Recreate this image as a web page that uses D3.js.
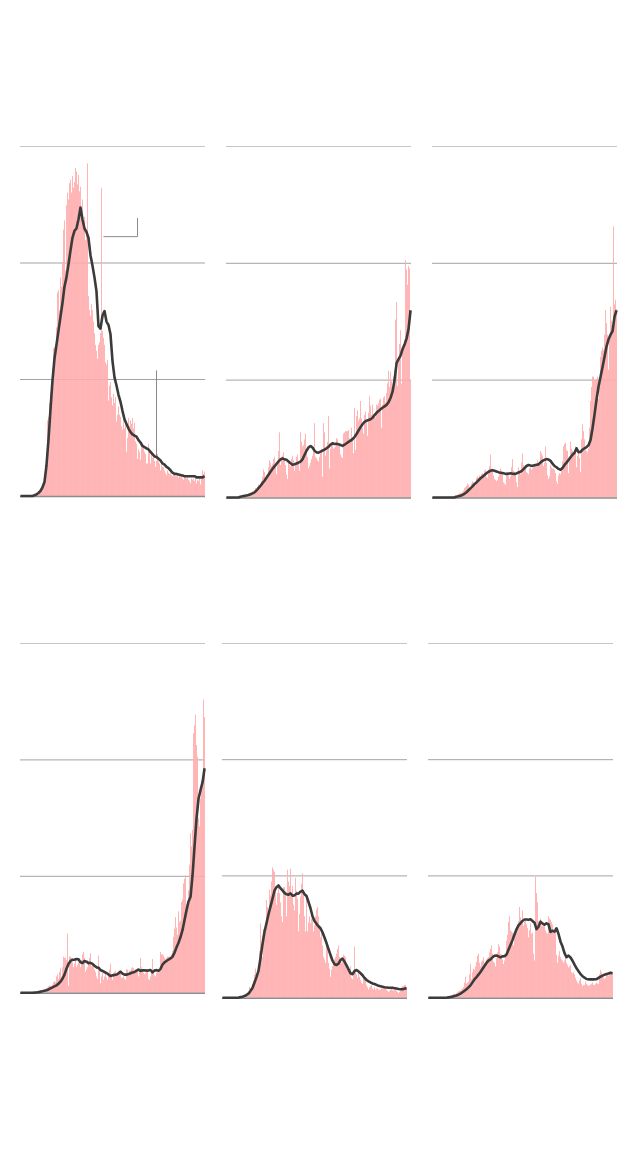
<!DOCTYPE html>
<html><head><meta charset="utf-8">
<script src="https://cdn.jsdelivr.net/npm/d3@7"></script>
<style>html,body{margin:0;padding:0;background:#fff}svg{display:block}</style>
</head><body><svg id="chart" width="640" height="1154"></svg>
<script>
// ---- DATA (units: 100 = one gridline step) ----
const DAYS = 185;           // daily bars per panel
const AVG_STEP = 2;         // average line sampled every 2 days

const p1Bars = [
0,0,0,0,0,0,0,0,0,0, 0.5,0,0.5,0.5,1,0.5,1,1,1.5,2,
3,4,5,7,11,25,37,65,68,80, 89,95,102,127,128,120,145,175,177,160,
188,180,200,229,237,194,250,261,255,269, 272,261,275,265,270,282,279,268,276,262,
266,245,255,230,240,220,225,286,172,160, 155,165,160,150,140,130,125,118,130,132,
140,265,142,136,130,115,113,117,82,95, 98,85,78,88,80,85,64,70,77,70,
68,60,57,66,58,63,38,50,67,60, 65,62,67,58,63,47,45,32,40,38,
31,45,42,42,38,36,28,28,45,40, 28,36,33,33,30,25,30,36,30,28,
22,27,25,25,22,20,18,22,20,19, 20,18,17,20,19,17,17,19,16,17,
17,18,15,14,17,16,15,17,14,13, 11,15,14,15,13,16,11,14,13,15,
10,16,22,19,21];
const p1Avg = [
0,0,0,0,0,0,0,
0.6,1.4,2.6,4.3,7.3,12,26,48,74,
99,118,130,142,154,166,180,188,199,
211,222,228,230,238,248,238,230,227,
222,207,198,188,176,146,144,155,159,
150,147,139,116,102,95,87,81,73,
66,62,58,55,53,52,51,48,46,
43,42,41,40,38,36,34,33.5,32,
30.5,28,27,25,24,22,20,19,19,
18.5,18,17.6,17,17,17,17,17,17,
16,16,16,16,17];

const p2Bars = [
0,0,0,0,0,0,0,0,0,0, 0.5,0.5,0.5,0.5,0.5,0.5,1,1,2,1,
2,2,3,3.5,3,4,5,4,6,8, 7,9,11,10,12,14,18,24,22,17,
19,20,26,32,30,27,29,33,35,30, 20,28,40,56,28,33,36,39,34,28,
20,16,30,28,27,33,36,32,23,28, 35,37,30,23,56,48,44,45,50,55,
40,35,25,27,30,33,36,42,64,35, 34,32,31,35,38,42,18,64,56,36,
40,48,70,25,42,47,48,42,43,44, 51,50,45,46,37,35,34,55,56,57,
57,57,58,51,50,60,52,38,77,41, 70,75,66,68,83,68,60,55,71,74,
65,53,73,87,79,71,80,71,70,69, 80,79,81,84,85,60,80,86,87,82,
90,98,109,95,108,100,93,104,110,153, 168,96,116,132,144,98,125,128,136,204,
196,183,199,197,101];
const p2Avg = [
0,0,0,0,0,0,0,
0.7,1.1,1.4,1.8,2.1,2.8,3.6,4.4,6,
8,9.9,12.3,14.4,17,19.5,22.2,24.6,26.7,
28.8,31,32.7,33.6,32.8,32.4,31,29.4,28.2,
28.6,29.2,30,30.8,32.8,36.5,40.2,43,44.3,
43,40.3,38.8,38.6,39.4,40.3,41.2,42.3,43.5,
45.5,46.6,46,46.2,45.8,45.2,44.4,45.4,46.6,
47.8,48.8,50.2,52,54.6,57.6,60.5,63,65,
66,66.6,67.3,68.6,70.8,72.8,74.3,75.9,77.2,
78.4,79.6,82,85.6,91,101,115.4,119,122,
127.6,131.5,136.6,145,161];

const p3Bars = [
0,0,0,0,0,0,0,0,0,0, 0,0,0,0,0.3,0.5,0.5,0.7,0.8,1,
1,1.2,1.5,2,1.5,2.5,3,3.5,4,4, 5,6,8,9,10,12,11,8.6,9,12,
14,13,12,10,17,18,17,19,18,20, 21,20,23,24,18,17,24,27,37,25,
22,19,16,15,14,15,18,20,25,23, 21,13,12,11,20,21,19,16,18,26,
33,23,22,20,13,9,26,22,20,30, 38,28,26,27,22,21,20,25,26,24,
25,27,28,27,28,32,28,30,40,38, 36,27,30,44,30,19,16,18,28,26,
25,25,24,21,14,12,19,21,20,26, 31,44,46,47,41,40,21,34,48,42,
40,39,41,44,26,36,40,34,22,50, 63,57,50,41,40,39,42,60,83,95,
104,104,100,101,102,104,85,100,121,126, 129,127,140,161,150,140,110,140,164,152,
144,233,166,170,162];
const p3Avg = [
0,0,0,0,0,0,0,0,0,
0,0,0,0.6,1.0,1.5,2.2,3.2,4.5,
6.2,7.9,9.6,11.4,13,14.8,16.5,17.9,19.3,
20.8,22.1,23,23.5,23,22.4,21.8,21.3,21,
20.6,20.3,20.5,20.8,20.4,20.3,20.7,21.5,22.2,
23.5,25.3,27.1,27.9,27.5,27.2,27.7,28.2,28.5,
30.1,31.5,32.4,33,32.7,31.5,29.1,27.1,26,
24.6,23.9,25.4,28,30,32.3,34.6,36.8,38.5,
42.3,39,39.2,41.1,42.3,43.3,45,49.5,59.5,
71.5,84.4,95.5,103.9,112.3,121,130,136,140,
143,155.5,161];

const p4Bars = [
0,0,0,0,0,0,0,0,0,0, 0,0,0,0.3,0.5,0.5,0.8,1,1.2,1.5,
2,2.3,2.3,2.8,3,3.5,4,4.5,5.5,6, 6,5,7,9,10,9,14,16,12,18,
21,14,22,31,30,30,28,51,6,31, 31,30,26,22,25,28,22,24,26,25,
22,28,33,35,30,18,20,22,26,30, 34,23,24,25,20,18,14,12,32,20,
8,14,17,11,14,18,13,11,17,20, 25,14,11,17,18,19,16,17,19,19,
18,13,13,14,12,11,20,20,17,19, 19,21,22,21,19,17,19,21,14,20,
30,22,19,17,16,17,20,20,12,11, 14,18,29,18,15,14,17,18,17,20,
35,33,33,32,30,29,30,31,31,31, 31,33,36,48,55,65,56,50,70,61,
62,78,80,94,98,101,76,75,88,110, 137,126,140,223,230,239,213,203,150,143,
167,175,185,252,237];
const p4Avg = [
0,0,0,0,0,0,0,0.1,0.2,
0.5,0.9,1.2,1.6,2.1,2.8,3.7,4.6,5.5,
6.3,7.7,9.5,12,15.5,20.6,24.7,27.3,28.3,
28.3,29,28.8,26.2,25.5,27.3,26.7,25.4,25.7,
24.8,23.2,21.8,21.5,19.5,18.7,17.8,16.9,15.7,
14.4,14.9,15.3,15.6,16.6,18.1,16.4,15.5,15.5,
16,16.7,17.3,17.8,19,19.8,18.7,19.2,19.3,
19,19.2,19.5,17.5,19,19.4,18.8,20.5,24.2,
26.1,27.3,28.5,29.5,31,34.5,39,43,47.9,
54,62.5,71,78.5,82.6,101,126,150,167,
174.3,181,193];

const p5Bars = [
0,0,0,0,0,0,0,0,0,0, 0,0,0,0,0,0,0.3,0.5,0.5,1,
1,1.5,2,3,3.4,3,4,9.5,8,5, 12,15,20,25,20,21,22,40,64,40,
35,59,60,56,84,78,75,93,88,100, 112,110,108,95,80,90,97,90,82,70,
65,95,95,92,70,110,100,96,111,88, 96,80,75,103,92,85,57,72,87,98,
107,88,70,57,89,57,65,70,64,68, 70,57,62,70,76,78,70,62,52,56,
45,35,33,30,48,45,30,25,18,24, 27,30,33,35,38,42,45,35,33,30,
33,37,36,35,25,26,22,24,27,17, 16,19,44,22,20,17,22,18,15,13,
12,17,16,15,11,9,7,9,10,11, 8,7,9,7,8,8,7,7,7,8,
8,8,9,8,7,6,5,6,7,8, 7,6,7,7,6,5,4,5,6,9,
10,10,11,11,9];
const p5Avg = [
0,0,0,0,0,0,0,0,0,
0.5,0.9,1.4,2.3,3.5,5.8,8.4,12.8,17.7,
23,33.9,46,56.5,64,71.5,78.3,85,92,
95,96.5,94.1,92.3,90,89,88.5,89.8,87.8,
88,89.5,89.5,91.2,92,89,87.5,82.3,76.9,
70,66,63.5,61.4,59.7,56.2,51.7,47,41.8,
36.7,31.8,28.8,28.1,29.3,32.4,33.6,31,27.8,
24.3,21,20.2,23,23.8,22.6,21,19.3,17,
15.2,14,13.1,12.3,11.8,11,10.2,9.8,9.4,
9,8.8,8.6,8.6,8.5,8.2,7.9,7.5,7.3,
7.2,7.8,8.1];

const p6Bars = [
0,0,0,0,0,0,0,0,0,0, 0,0,0,0,0,0,0.3,0.3,0.5,0.5,
1,1,1.5,2,2.5,3,3.5,3,4,5, 5.5,6,6,7,8,9,13,18,12,13,
14,20,29,16,22,25,24,27,31,36, 38,30,27,31,32,35,30,27,33,34,
35,39,42,45,38,31,30,27,34,39, 46,44,38,37,33,29,32,37,49,54,
65,70,58,57,56,45,52,58,61,63, 66,78,69,66,75,62,65,66,63,60,
52,58,64,55,56,38,32,104,90,82, 66,64,68,62,62,65,64,58,56,55,
70,68,67,65,63,58,57,58,37,30, 36,40,35,33,32,30,32,35,30,28,
26,27,28,22,21,22,20,17,15,13, 12,15,17,12,10,11,11,14,12,11,
10,11,11,12,13,11,11,12,13,12, 12,20,24,22,20,18,16,17,20,20,
19,21,22,22,21];
const p6Avg = [
0,0,0,0,0,0,0,0,0,
0,0.3,0.6,0.9,1.4,1.9,2.6,3.5,4.7,
5.9,7.3,8.9,10.6,13.2,15.7,17.7,19.8,22.1,
24.7,27.3,29.9,31.9,33,34.7,36.1,36.3,35.5,
34.7,35.5,35.6,37.2,41.3,45.3,49.5,54.3,58.8,
62.2,64,66,67.2,67.2,67,67.4,66,64.5,
59,61,65.4,63.7,62.8,64,63,56.5,57.6,
56.8,59.7,54.8,48.2,44,38.3,34.8,36.2,34.6,
31.8,28.4,25.3,22.8,20.3,18.5,17.2,16.1,15.8,
15.8,15.8,15.8,15.9,17,18.1,19,19.8,20.3,
20.8,21.5,21.1];

// leader lines in first panel: [day, value] points
const p1Leader1 = [[83,223],[117,223],[117,239]];
const p1Leader2 = [[136,108],[136,32]];

// ---- LAYOUT ----
const panels = [
  {bars:p1Bars, avg:p1Avg, x0:20,  x1:205, zeroY:496,   gridTop:146.5, step:116.5},
  {bars:p2Bars, avg:p2Avg, x0:226, x1:411, zeroY:497.5, gridTop:146.5, step:116.8},
  {bars:p3Bars, avg:p3Avg, x0:432, x1:617, zeroY:497.5, gridTop:146.5, step:116.8},
  {bars:p4Bars, avg:p4Avg, x0:20,  x1:205, zeroY:992.7, gridTop:643.5, step:116.4},
  {bars:p5Bars, avg:p5Avg, x0:222, x1:407, zeroY:997.7, gridTop:643.5, step:116.2},
  {bars:p6Bars, avg:p6Avg, x0:428, x1:613, zeroY:997.7, gridTop:643.5, step:116.2}
];
const PX_PER_100 = 116.3;

const svg = d3.select('#chart');
svg.append('rect').attr('width',640).attr('height',1154).attr('fill','#fff');

panels.forEach((p, pi) => {
  const g = svg.append('g');
  const x = d3.scaleBand().domain(d3.range(DAYS)).range([p.x0, p.x1]).paddingInner(0.12);
  const y = d3.scaleLinear().domain([0, 300]).range([p.zeroY, p.zeroY - 3 * PX_PER_100]);

  // gridlines
  [0,1,2].forEach(i => {
    const gy = p.gridTop + i * p.step;
    g.append('line').attr('x1', p.x0).attr('x2', p.x1)
      .attr('y1', gy).attr('y2', gy)
      .attr('stroke', i === 0 ? '#c6c6c6' : '#a3a3a3').attr('stroke-width', 1);
  });

  // bars
  g.append('g').selectAll('rect').data(p.bars).join('rect')
    .attr('x', (d, i) => x(i))
    .attr('width', x.bandwidth())
    .attr('y', d => y(d))
    .attr('height', d => y(0) - y(d))
    .attr('fill', '#ffacac');

  // baseline
  g.append('line').attr('x1', p.x0).attr('x2', p.x1)
    .attr('y1', p.zeroY + 0.5).attr('y2', p.zeroY + 0.5)
    .attr('stroke', '#8c8c8c').attr('stroke-width', 1.5);

  // leader lines (panel 1)
  if (pi === 0) {
    const lx = d => x(d[0]) + x.bandwidth() / 2;
    const ll = d3.line().x(lx).y(d => y(d[1]));
    [p1Leader1, p1Leader2].forEach(pts => {
      g.append('path').attr('d', ll(pts)).attr('fill', 'none')
        .attr('stroke', '#8a8a8a').attr('stroke-width', 1);
    });
  }

  // 7-day average line
  const line = d3.line()
    .x((d, i) => x(i * AVG_STEP) + x.bandwidth() / 2)
    .y(d => y(d));
  g.append('path').datum(p.avg).attr('d', line)
    .attr('fill', 'none').attr('stroke', '#3b3b3b')
    .attr('stroke-width', 2.6).attr('stroke-linejoin', 'round')
    .attr('stroke-linecap', 'butt');
});
</script>
</body></html>
